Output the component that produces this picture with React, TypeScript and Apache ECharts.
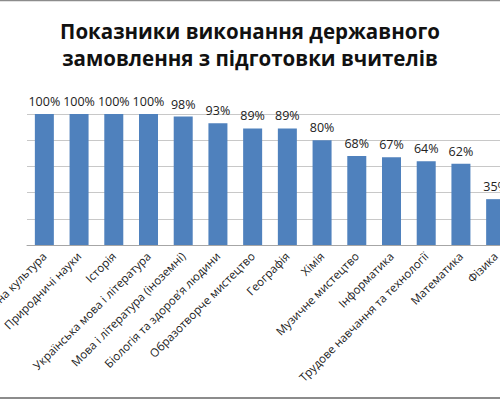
import React, { useEffect, useRef } from "react";
import * as echarts from "echarts";

const titleText = "Показники виконання державного\nзамовлення з підготовки вчителів";
const categories = [
  "Фізична культура",
  "Природничі науки",
  "Історія",
  "Українська мова і література",
  "Мова і література (іноземні)",
  "Біологія та здоров’я людини",
  "Образотворче мистецтво",
  "Географія",
  "Хімія",
  "Музичне мистецтво",
  "Інформатика",
  "Трудове навчання та технології",
  "Математика",
  "Фізика",
];
const values = [100, 100, 100, 100, 98, 93, 89, 89, 80, 68, 67, 64, 62, 35];

export default function App() {
  const ref = useRef<HTMLDivElement>(null);
  useEffect(() => {
    if (!ref.current) return;
    const chart = echarts.init(ref.current, undefined, { renderer: "svg" });
    chart.setOption({
      animation: false,
      backgroundColor: "#ffffff",
      textStyle: { fontFamily: "Open Sans" },
      title: {
        text: titleText,
        left: "center",
        top: 12,
        textStyle: {
          fontFamily: "Open Sans",
          fontWeight: "bold",
          fontSize: 20.5,
          lineHeight: 27,
          color: "#111111",
        },
      },
      grid: {
        left: 27,
        right: -13,
        top: 114,
        bottom: 155,
        containLabel: false,
        outerBoundsMode: "none",
      },
      xAxis: {
        type: "category",
        data: categories,
        axisLine: { show: true, lineStyle: { color: "#a6a6a6", width: 1 } },
        axisTick: { show: false },
        axisLabel: {
          rotate: 45,
          interval: 0,
          fontSize: 11.5,
          color: "#222222",
          fontFamily: "Open Sans",
          margin: 9,
        },
      },
      yAxis: {
        type: "value",
        min: 0,
        max: 100,
        interval: 20,
        axisLabel: { show: false },
        axisLine: { show: false },
        axisTick: { show: false },
        splitLine: { lineStyle: { color: "#c8c8c8", width: 1 } },
      },
      series: [
        {
          type: "bar",
          data: values,
          barWidth: 19,
          itemStyle: { color: "#4f81bd" },
          label: {
            show: true,
            position: "top",
            formatter: "{c}%",
            fontSize: 12.5,
            color: "#222222",
            fontFamily: "Open Sans",
            distance: 6,
          },
        },
      ],
      graphic: [
        {
          type: "line",
          shape: { x1: 0, y1: 0.5, x2: 500, y2: 0.5 },
          style: { stroke: "#8c8c8c", lineWidth: 1.5 },
        },
        {
          type: "line",
          shape: { x1: 0, y1: 398, x2: 500, y2: 398 },
          style: { stroke: "#8c8c8c", lineWidth: 2 },
        },
      ],
    });
    return () => chart.dispose();
  }, []);
  return (
    <div style={{ position: "fixed", left: 0, top: 0, width: 500, height: 400, overflow: "hidden" }}>
      <div ref={ref} style={{ width: 500, height: 400 }} />
    </div>
  );
}
